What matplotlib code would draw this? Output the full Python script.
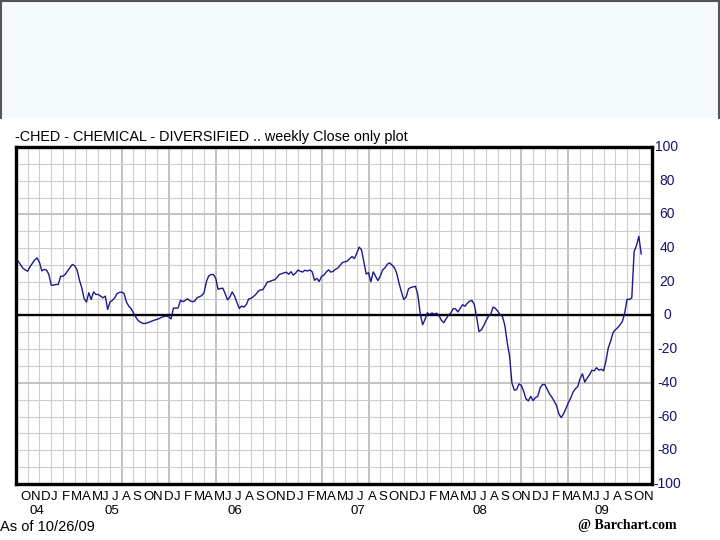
import matplotlib
matplotlib.use('Agg')
import matplotlib.pyplot as plt
import matplotlib.transforms as mtransforms
from matplotlib.patches import Rectangle
from matplotlib.lines import Line2D
import pandas as pd

NARROW = 'Liberation Sans'

# ---------------- data (weekly close, % change) ----------------
end_date = '2009-10-26'
values = [
    32.2, 30.0, 28.0, 27.0, 26.3, 29.0, 31.0, 33.0, 34.2, 31.5,
    26.5, 27.3, 27.0, 24.3, 18.0, 18.0, 18.4, 18.4, 23.3, 23.3,
    24.5, 26.5, 28.5, 30.3, 29.5, 27.0, 21.0, 16.4, 10.0, 8.0,
    13.5, 9.5, 14.0, 12.5, 12.5, 11.5, 10.5, 11.5, 3.6, 8.0,
    9.0, 10.5, 13.0, 13.7, 13.9, 13.0, 8.0, 5.5, 4.0, 1.5,
    -1.0, -3.0, -4.0, -4.7, -4.7, -4.3, -3.8, -3.2, -2.7, -2.3,
    -1.8, -1.0, -0.6, -0.4, -0.8, -2.0, 4.4, 4.3, 4.5, 9.1,
    8.2, 8.9, 9.9, 8.8, 8.2, 8.5, 10.5, 11.1, 11.8, 13.5,
    20.0, 23.5, 24.3, 24.3, 22.0, 15.5, 16.0, 16.2, 13.0, 9.3,
    11.0, 14.0, 11.5, 7.8, 4.2, 5.6, 5.0, 6.5, 9.8, 10.2,
    11.2, 12.5, 14.3, 15.2, 15.3, 17.5, 19.9, 20.2, 20.8, 21.2,
    22.5, 24.3, 24.8, 25.3, 25.7, 24.5, 26.0, 24.0, 25.2, 27.0,
    26.2, 25.8, 26.9, 26.4, 27.0, 26.0, 20.9, 22.0, 20.2, 23.2,
    24.0, 25.8, 27.1, 25.7, 26.3, 27.5, 28.2, 30.0, 31.5, 31.9,
    32.3, 33.8, 35.0, 33.8, 37.0, 40.6, 39.0, 32.0, 24.6, 25.4,
    20.0, 25.9, 23.3, 20.7, 23.5, 27.0, 28.3, 30.5, 31.2, 29.9,
    28.4, 25.0, 19.0, 14.0, 9.5, 11.0, 15.8, 16.6, 17.0, 17.3,
    12.0, 1.0, -5.5, -2.4, 1.6, 0.6, 1.5, 0.8, 1.4, -0.2,
    -2.8, -4.3, -2.0, 0.3, 1.5, 4.0, 4.0, 2.1, 4.3, 6.4,
    5.5, 7.2, 8.5, 8.9, 6.5, -1.0, -9.5, -8.5, -6.0, -3.0,
    -0.5, 0.8, 5.0, 4.2, 2.5, 0.3, -0.6, -6.0, -16.0, -24.0,
    -40.0, -44.3, -44.0, -40.6, -41.5, -45.0, -49.5, -50.7, -48.0, -50.5,
    -48.8, -48.0, -43.0, -41.0, -40.9, -43.8, -46.5, -48.5, -50.9, -53.5,
    -58.5, -60.6, -58.2, -55.2, -51.8, -49.0, -45.5, -43.5, -42.2, -37.5,
    -34.6, -39.5, -37.2, -35.2, -32.5, -32.8, -31.0, -32.4, -31.9, -32.8,
    -27.0, -19.2, -15.3, -10.3, -8.5, -7.2, -5.5, -3.5, 1.5, 9.7,
    9.5, 10.5, 38.0, 41.5, 47.0, 36.5,
]
y_ticks = [100, 80, 60, 40, 20, 0, -20, -40, -60, -80, -100]
y_tick_labels = ['100', '80', '60', '40', '20', '0', '-20', '-40', '-60', '-80', '-100']
month_letters = ['J', 'F', 'M', 'A', 'M', 'J', 'J', 'A', 'S', 'O', 'N', 'D']
year_labels = ['04', '05', '06', '07', '08', '09']
year_label_dates = ['2004-11-20', '2005-07-04', '2006-07-04', '2007-07-04', '2008-07-04', '2009-07-01']
title = '-CHED - CHEMICAL - DIVERSIFIED .. weekly Close only plot'

# ---------------- figure ----------------
W, H = 720, 540
fig = plt.figure(figsize=(7.2, 5.4), dpi=100)
fig.patch.set_facecolor('white')

# top pale box
fig.patches.append(Rectangle((0, 1 - 118 / H), 1, 118 / H, transform=fig.transFigure,
                             facecolor='#f5fafd', edgecolor='none', zorder=0))
for xs, ys in [([0.5 / W, 0.5 / W], [1, 1 - 118 / H]),
               ([1 - 1 / W, 1 - 1 / W], [1, 1 - 118 / H]),
               ([0, 1], [1 - 0.8 / H, 1 - 0.8 / H])]:
    fig.lines.append(Line2D(xs, ys, transform=fig.transFigure, color='#555555', lw=1.5))

ax = fig.add_axes([15.5 / W, 1 - 484 / H, (652 - 15.5) / W, (484 - 147) / H])
origin = pd.Timestamp('2004-09-20')


def wk(d):
    return (pd.Timestamp(d) - origin).days / 7.0


dates = pd.date_range(end=end_date, periods=len(values), freq='7D')
xw = [(d - origin).days / 7.0 for d in dates]

ax.set_xlim(-0.2, 270.6)
ax.set_ylim(-100, 100)

heavy_v = {9, 13, 17, 26, 30, 43, 47}
for k in range(1, 55):
    if k in heavy_v:
        ax.axvline(5 * k, color='#bdbdbd', lw=1.3, zorder=0)
    else:
        ax.axvline(5 * k, color='#cdcdcd', lw=0.8, zorder=0)
for v in range(-90, 100, 10):
    if v == 0:
        continue
    if v in (60, -40):
        ax.axhline(v, color='#bdbdbd', lw=1.3, zorder=0)
    else:
        ax.axhline(v, color='#cdcdcd', lw=0.8, zorder=0)
ax.axhline(0, color='black', lw=1.7, zorder=2)

ax.plot(xw, values, color='#1a1a8a', lw=1.0, zorder=3)

ax.set_xticks([])
ax.set_yticks([])
for s in ax.spines.values():
    s.set_linewidth(2.4)
    s.set_color('black')

# right-hand value labels
ytr = ax.get_yaxis_transform()
for v, lab in zip(y_ticks, y_tick_labels):
    ax.text(1.0 + (667 - 652) / 636.5, v, lab, transform=ytr, ha='center', va='center',
            color='#14146e', fontsize=10, family=NARROW, clip_on=False)

# month letters and year labels
xtr = mtransforms.blended_transform_factory(ax.transData, ax.transAxes)
for m in pd.date_range('2004-10-01', '2009-11-01', freq='MS'):
    ax.text(wk(m) + 0.3, -0.038, month_letters[m.month - 1], transform=xtr,
            ha='left', va='center', fontsize=9.5, family=NARROW, clip_on=False)
for lab, d in zip(year_labels, year_label_dates):
    ax.text(wk(d), -0.08, lab, transform=xtr, ha='center', va='center',
            fontsize=9.5, family=NARROW, clip_on=False)

fig.text(15 / W, 1 - 137 / H, title, ha='left', va='center', fontsize=10.4, family=NARROW)
fig.text(0.0, 1 - 527 / H, 'As of 10/26/09', ha='left', va='center', fontsize=10.5, family=NARROW)
fig.text(578 / W, 1 - 526 / H, '@ Barchart.com', ha='left', va='center', fontsize=10,
         family='Liberation Serif', fontweight='bold')

fig.savefig('out.png', dpi=100)
